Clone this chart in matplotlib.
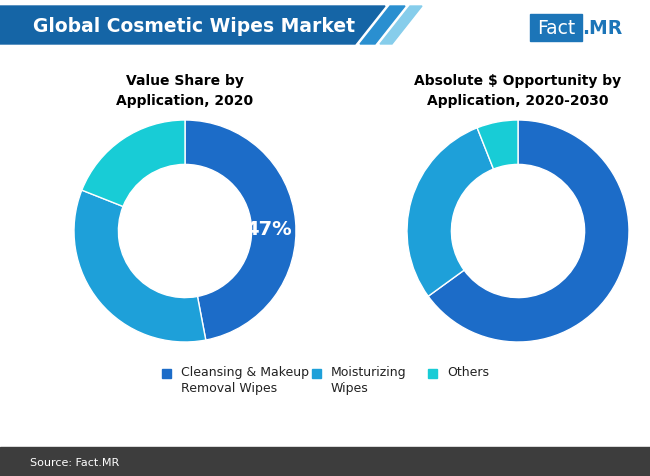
import matplotlib.pyplot as plt
from matplotlib.patches import Rectangle, Polygon

categories = ['Cleansing & Makeup\nRemoval Wipes', 'Moisturizing\nWipes', 'Others']
share_2020 = [47, 34, 19]
opportunity = [65, 29, 6]
colors = ['#1c6cc8', '#1ea0d9', '#18ccd6']

W, H = 650, 477
fig = plt.figure(figsize=(6.5, 4.77), dpi=100)
fig.patch.set_facecolor('white')

# background layer for header/footer
bg = fig.add_axes([0, 0, 1, 1])
bg.set_xlim(0, W)
bg.set_ylim(H, 0)
bg.axis('off')
bg.add_patch(Polygon([[0, 7], [385, 7], [355, 45], [0, 45]], color='#1565a6'))
bg.add_patch(Polygon([[390, 7], [405, 7], [375, 45], [360, 45]], color='#2a8fd0'))
bg.add_patch(Polygon([[410, 7], [422, 7], [392, 45], [380, 45]], color='#86cdeb'))
bg.text(33, 26, 'Global Cosmetic Wipes Market', color='white', fontsize=13.5,
        fontweight='bold', va='center', ha='left')
bg.add_patch(Rectangle((530, 15), 52, 27, color='#1c75b8'))
bg.text(556, 28.5, 'Fact', color='white', fontsize=13.5, va='center', ha='center')
bg.text(582, 28.5, '.MR', color='#1c75b8', fontsize=13.5, fontweight='bold', va='center', ha='left')
bg.add_patch(Rectangle((0, 448), W, 29, color='#3d3d3d'))
bg.text(30, 463, 'Source: Fact.MR', color='white', fontsize=8, va='center')

bg.text(185, 81, 'Value Share by', fontsize=10, fontweight='bold', ha='center', va='center')
bg.text(185, 101, 'Application, 2020', fontsize=10, fontweight='bold', ha='center', va='center')
bg.text(518, 81, 'Absolute $ Opportunity by', fontsize=10, fontweight='bold', ha='center', va='center')
bg.text(518, 101, 'Application, 2020-2030', fontsize=10, fontweight='bold', ha='center', va='center')


def donut(cx, cy, r, vals):
    ax = fig.add_axes([(cx - r) / W, 1 - (cy + r) / H, 2 * r / W, 2 * r / H])
    ax.pie(vals, colors=colors, startangle=90, counterclock=False,
           wedgeprops=dict(width=0.4, edgecolor='white', linewidth=1))
    ax.set_xlim(-1, 1)
    ax.set_ylim(-1, 1)
    ax.set_aspect('equal')
    return ax


ax1 = donut(185, 232, 111, share_2020)
ax1.text(0.75, 0.02, f'{share_2020[0]}%', color='white', fontsize=14,
         fontweight='bold', ha='center', va='center', zorder=10)
donut(518, 232, 111, opportunity)

# legend
lx = [162, 312, 428]
for x, c, lab in zip(lx, colors, categories):
    bg.add_patch(Rectangle((x, 370), 9, 9, color=c))
    bg.text(x + 19, 366, lab, fontsize=9, ha='left', va='top', color='#222222',
            linespacing=1.3)

fig.savefig('out.png', dpi=100)
